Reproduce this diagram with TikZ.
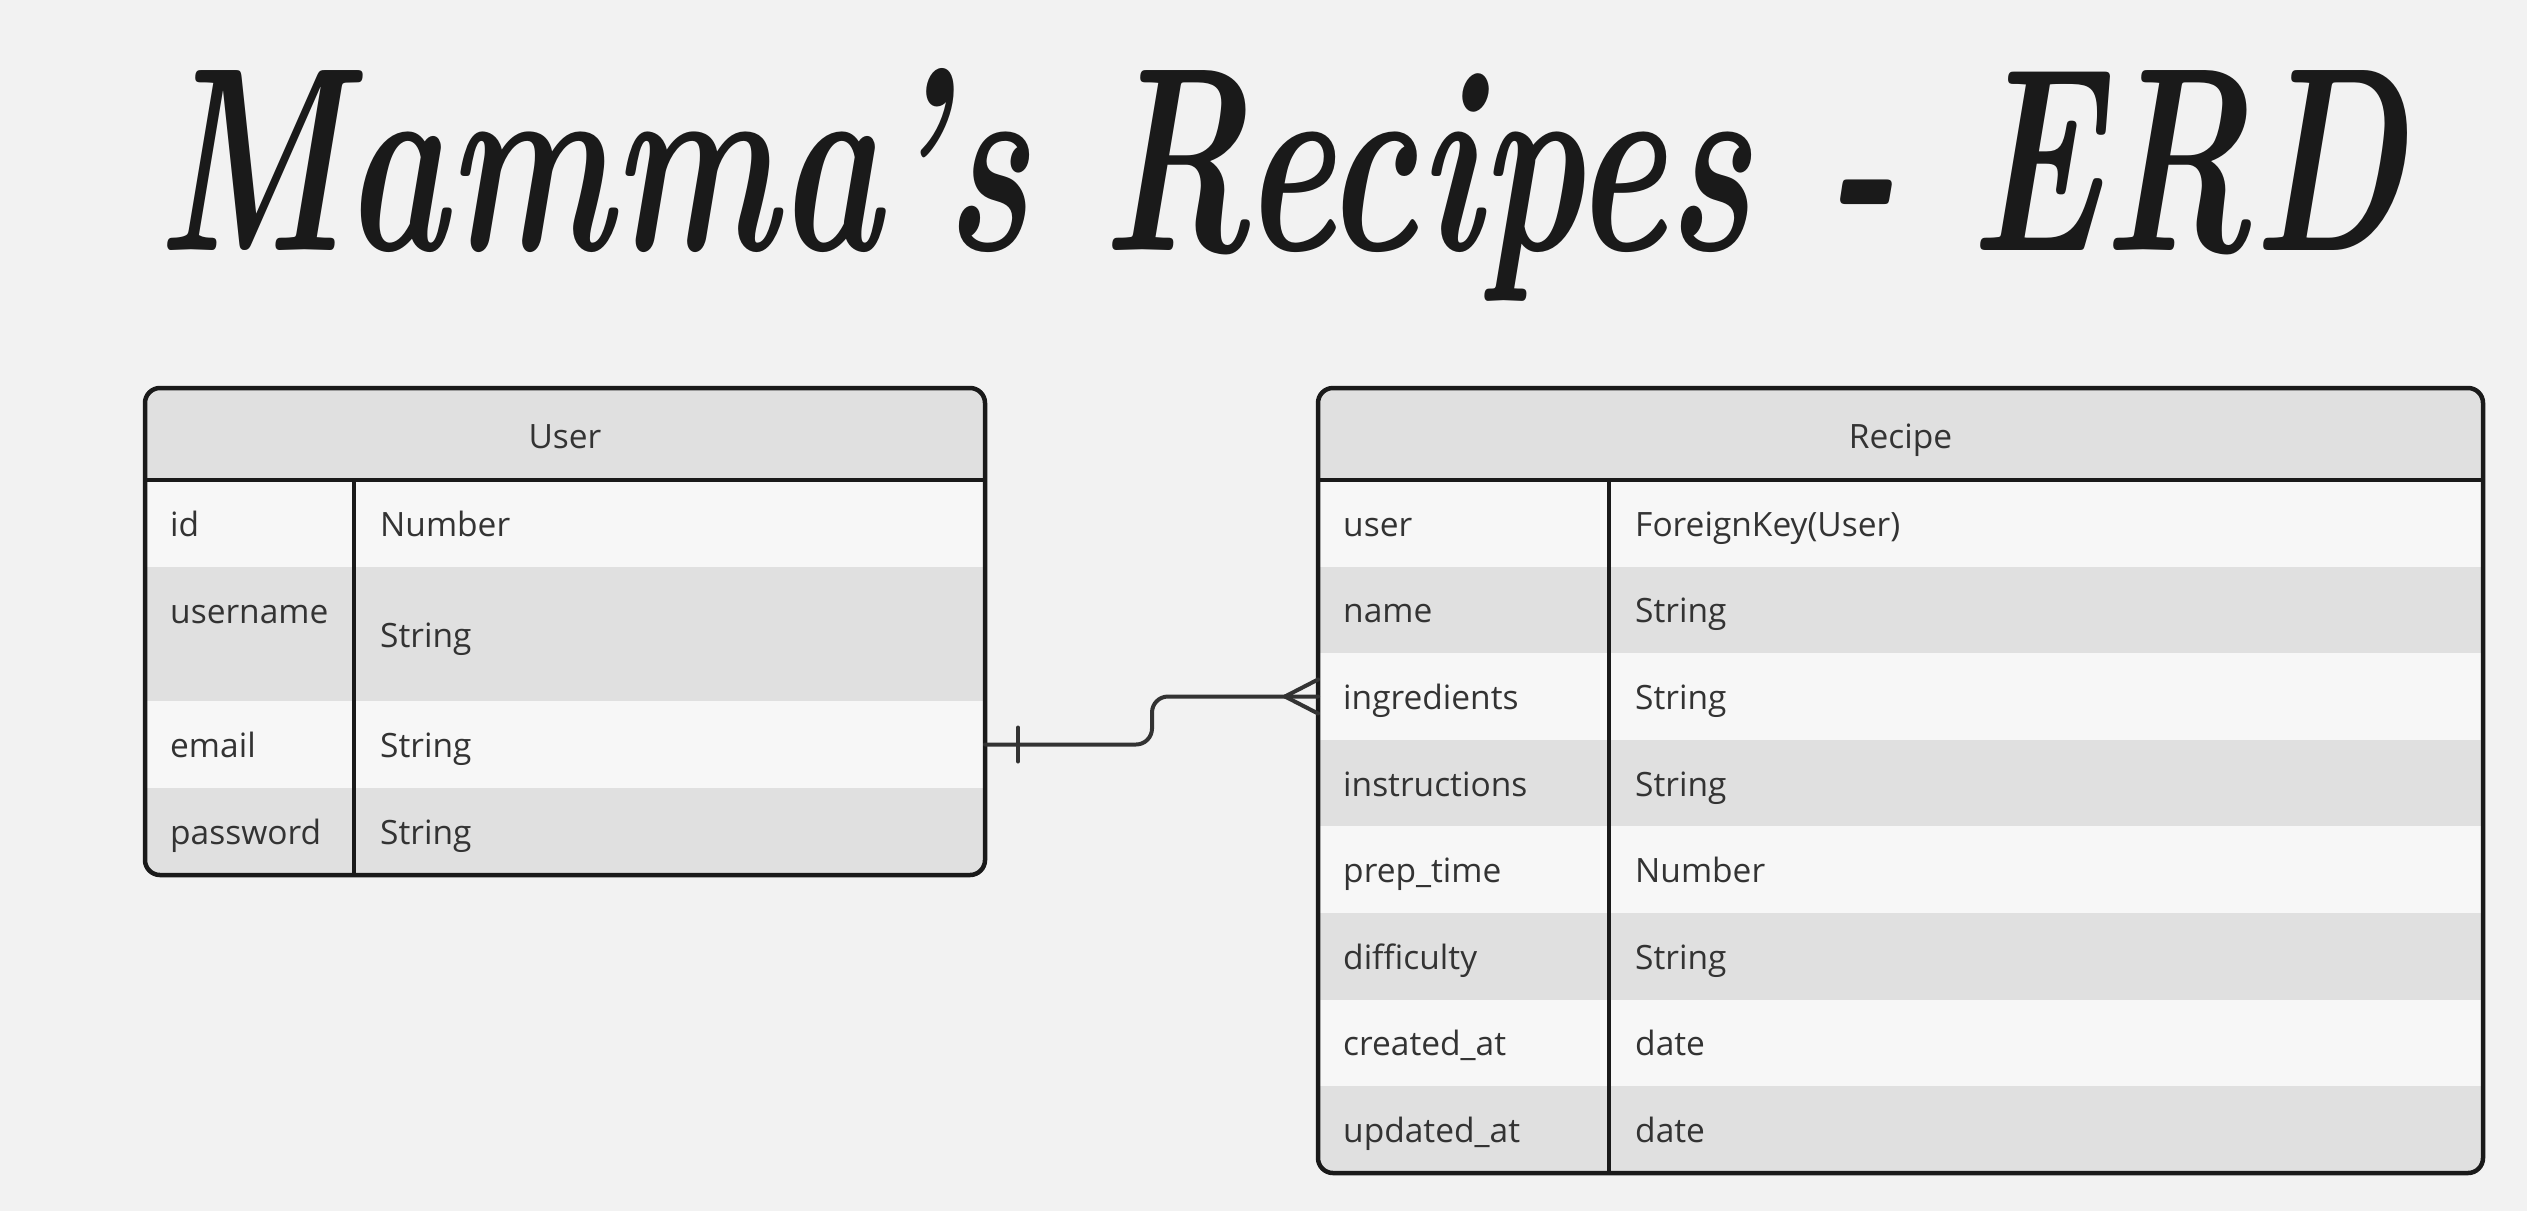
\documentclass[tikz,border=0pt]{standalone}
\usepackage{fontspec}
\usepackage{graphicx}
\setmainfont{Open Sans}
\newfontfamily\titlefont{lmroman10-bolditalic.otf}
\usetikzlibrary{calc}
\definecolor{bg}{HTML}{F2F2F2}
\definecolor{hdr}{HTML}{E0E0E0}
\definecolor{rowA}{HTML}{F7F7F7}
\definecolor{rowB}{HTML}{E0E0E0}
\definecolor{edge}{HTML}{1A1A1A}
\definecolor{txt}{HTML}{333333}
\definecolor{conncol}{HTML}{333333}
\tikzset{
  area/.style={inner sep=0pt, outer sep=0pt, draw=none},
  rowbox/.style={area},
  lbl/.style={anchor=base west, inner sep=0pt, text=txt, font=\fontsize{33.5}{40}\selectfont},
  hlbl/.style={anchor=base, inner sep=0pt, text=txt, font=\fontsize{33.5}{40}\selectfont},
  border/.style={draw=edge, line width=4.5pt, rounded corners=15pt},
  sep/.style={draw=edge, line width=4.5pt},
  conn/.style={draw=conncol, line width=4pt, line cap=round, line join=round}
}
\begin{document}
\begin{tikzpicture}[x=1pt, y=-1pt]
\fill[bg] (0,0) rectangle (2527,1211);
\useasboundingbox (0,0) rectangle (2527,1211);

% title
\node[anchor=base west, inner sep=0pt, text=edge] (title) at (156,250)
  {\resizebox{2246pt}{182pt}{\titlefont Mamma’s Recipes - ERD}};

% ---------------- User table ----------------
\node[area, minimum width=840pt, minimum height=487pt] (user) at (565,631.5) {};
\begin{scope}
  \clip[rounded corners=15pt] (user.north west) rectangle (user.south east);
  \node[rowbox, fill=hdr, minimum width=840pt, minimum height=92pt] (u-h) at (565,434) {};
  \node[rowbox, fill=rowA, minimum width=840pt, minimum height=87pt] (u-id) at (565,523.5) {};
  \node[rowbox, fill=rowB, minimum width=840pt, minimum height=134pt] (u-un) at (565,634) {};
  \node[rowbox, fill=rowA, minimum width=840pt, minimum height=87pt] (u-em) at (565,744.5) {};
  \node[rowbox, fill=rowB, minimum width=840pt, minimum height=87pt] (u-pw) at (565,831.5) {};
\end{scope}
\node[hlbl] (u-title) at (565,448) {User};
\node[lbl] (u-id-f) at ($(u-id.west)+(25,13)$) {id};
\node[lbl] (u-id-t) at ($(u-id.west)+(235,13)$) {Number};
\node[lbl] (u-un-f) at ($(u-un.north west)+(25,56)$) {username};
\node[lbl] (u-un-t) at ($(u-un.west)+(235,13)$) {String};
\node[lbl] (u-em-f) at ($(u-em.west)+(25,13)$) {email};
\node[lbl] (u-em-t) at ($(u-em.west)+(235,13)$) {String};
\node[lbl] (u-pw-f) at ($(u-pw.west)+(25,13)$) {password};
\node[lbl] (u-pw-t) at ($(u-pw.west)+(235,13)$) {String};
\draw[sep] (u-h.south west) -- (u-h.south east);
\draw[sep] ($(u-h.south west)+(209,0)$) -- ($(user.south west)+(209,0)$);
\draw[border] (user.north west) rectangle (user.south east);

% ---------------- Recipe table ----------------
\node[area, minimum width=1165pt, minimum height=785pt] (recipe) at (1900.5,780.5) {};
\begin{scope}
  \clip[rounded corners=15pt] (recipe.north west) rectangle (recipe.south east);
  \node[rowbox, fill=hdr, minimum width=1165pt, minimum height=92pt] (r-h) at (1900.5,434) {};
  \foreach \f/\t [count=\n] in {user/ForeignKey(User),name/String,ingredients/String,instructions/String,prep\_time/Number,difficulty/String,created\_at/date,updated\_at/date}{
    \pgfmathsetmacro\yc{480+86.6*(\n-0.5)}
    \pgfmathtruncatemacro\odd{mod(\n,2)}
    \ifnum\odd=1 \def\rc{rowA}\else\def\rc{rowB}\fi
    \node[rowbox, fill=\rc, minimum width=1165pt, minimum height=86.6pt] (r-\n) at (1900.5,\yc) {};
    \node[lbl] (r-\n-f) at ($(r-\n.west)+(25,13)$) {\f};
    \node[lbl] (r-\n-t) at ($(r-\n.west)+(317,13)$) {\t};
  }
\end{scope}
\node[hlbl] (r-title) at (1900.5,448) {Recipe};
\draw[sep] (r-h.south west) -- (r-h.south east);
\draw[sep] ($(r-h.south west)+(291,0)$) -- ($(recipe.south west)+(291,0)$);
\draw[border] (recipe.north west) rectangle (recipe.south east);

% ---------------- connector ----------------
\draw[conn, rounded corners=16pt] (u-em.east) -- ++(167,0) |- (r-3.west);
\draw[conn] ($(u-em.east)+(33,-17)$) -- ($(u-em.east)+(33,17)$);
\draw[conn] ($(r-3.west)+(-33,0)$) -- ($(r-3.west)+(0,-17)$);
\draw[conn] ($(r-3.west)+(-33,0)$) -- ($(r-3.west)+(0,17)$);
\end{tikzpicture}
\end{document}
